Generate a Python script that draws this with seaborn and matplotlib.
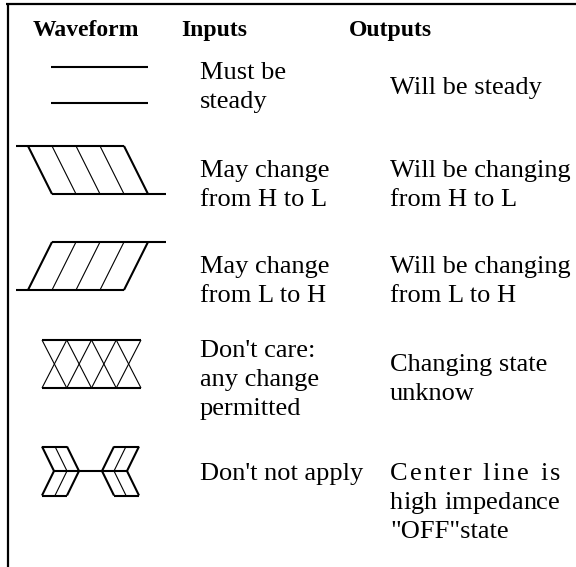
import matplotlib
matplotlib.use("Agg")
import matplotlib.pyplot as plt
import seaborn as sns

# ---- content ----
headers = ["Waveform", "Inputs", "Outputs"]
waveforms = ["steady", "high_to_low", "low_to_high", "dont_care", "off_state"]
inputs = [["Must be", "steady"],
          ["May change", "from H to L"],
          ["May change", "from L to H"],
          ["Don't care:", "any change", "permitted"],
          ["Don't not apply"]]
outputs = [["Will be steady"],
           ["Will be changing", "from H to L"],
           ["Will be changing", "from L to H"],
           ["Changing state", "unknow"],
           ["Center line is", "high impedance", "\"OFF\"state"]]
justified_outputs = {("off_state", 0), ("off_state", 1)}

# ---- layout (pixels, y downward) ----
W, H = 576, 567
row_centers = [85, 170, 266, 364, 471]
input_first_baseline = [79, 177, 273, 357, 480]
output_first_baseline = [94, 177, 273, 371, 480]
line_step = 29
col_header_x = [33, 181, 349]
col_text_x = [200, 390]
header_baseline = 36
THICK = 1.5
THIN = 0.8

sns.set_theme(style="white")
plt.rcParams['font.family'] = ['Liberation Serif', 'DejaVu Serif']

fig = plt.figure(figsize=(W / 100, H / 100), dpi=100)
ax = fig.add_axes([0, 0, 1, 1])
ax.set_xlim(0, W)
ax.set_ylim(H, 0)
ax.axis("off")


def seg(xs, ys, lw=THICK):
    ax.plot(xs, ys, color="black", lw=lw, solid_capstyle="butt",
            solid_joinstyle="miter")


# frame
seg([6, W], [3.5, 3.5], lw=1.6)
seg([7.5, 7.5], [3, H], lw=1.6)


def draw_wave(kind, cy):
    if kind == "steady":
        seg([51, 148], [cy - 18, cy - 18])
        seg([51, 148], [cy + 18, cy + 18])
    elif kind in ("high_to_low", "low_to_high"):
        t, b = cy - 24, cy + 24
        if kind == "low_to_high":
            t, b = b, t
        seg([16, 124], [t, t])
        seg([52, 166], [b, b])
        seg([28, 52], [t, b])
        seg([124, 148], [t, b])
        for k in range(1, 4):
            x = 28 + 24 * k
            seg([x, x + 24], [t, b], lw=THIN)
    elif kind == "dont_care":
        t, b = cy - 24, cy + 24
        xs = [42 + 24.75 * k for k in range(5)]
        seg([xs[0], xs[-1]], [t, t])
        seg([xs[0], xs[-1]], [b, b])
        for k in range(4):
            seg([xs[k], xs[k + 1]], [t, b], lw=THIN)
            seg([xs[k + 1], xs[k]], [t, b], lw=THIN)
    elif kind == "off_state":
        t, b = cy - 24.5, cy + 24.5
        mid = 90.5
        for sgn in (1, -1):
            def X(v):
                return mid + sgn * (v - mid)
            seg([X(42), X(67)], [t, t])
            seg([X(42), X(67)], [b, b])
            seg([X(42), X(54), X(42)], [t, cy, b])
            seg([X(67), X(79), X(67)], [t, cy, b])
            seg([X(55), X(67), X(55)], [t, cy, b], lw=THIN)
        seg([54, 127], [cy, cy])


def text_width(s, **kw):
    t = ax.text(0, 0, s, **kw)
    r = fig.canvas.get_renderer()
    w = t.get_window_extent(renderer=r).width
    t.remove()
    return w


def justified(s, x0, x1, y, **kw):
    ref = text_width(".", **kw)
    prefixes = [text_width(s[:k] + ".", **kw) - ref for k in range(len(s))]
    natural = text_width(s, **kw)
    extra = (x1 - x0 - natural) / (len(s) - 1)
    for k, ch in enumerate(s):
        if ch != " ":
            ax.text(x0 + prefixes[k] + k * extra, y, ch, va="baseline",
                    ha="left", **kw)


fig.canvas.draw()

for hx, h in zip(col_header_x, headers):
    ax.text(hx, header_baseline, h, fontsize=17, fontweight="bold",
            va="baseline", ha="left", color="black")

body = dict(fontsize=19, color="black")
for i, kind in enumerate(waveforms):
    draw_wave(kind, row_centers[i])
    for j, line in enumerate(inputs[i]):
        ax.text(col_text_x[0], input_first_baseline[i] + j * line_step, line,
                va="baseline", ha="left", **body)
    for j, line in enumerate(outputs[i]):
        y = output_first_baseline[i] + j * line_step
        if (kind, j) in justified_outputs:
            justified(line, col_text_x[1], 560, y, **body)
        else:
            ax.text(col_text_x[1], y, line, va="baseline", ha="left", **body)

fig.savefig("out.png", dpi=100)
